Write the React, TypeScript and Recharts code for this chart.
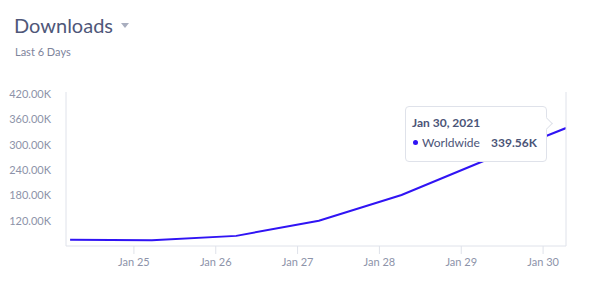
import React from "react";
import { LineChart, Line, XAxis, YAxis, Tooltip } from "recharts";

const dayPositions = [24.22, 25.22, 26.25, 27.26, 28.27, 29.28, 30.28];
const dayLabels = ["Jan 24, 2021", "Jan 25, 2021", "Jan 26, 2021", "Jan 27, 2021", "Jan 28, 2021", "Jan 29, 2021", "Jan 30, 2021"];
const worldwide = [75000, 73500, 84000, 120000, 181000, 262000, 339560];
const xTicks = [25, 26, 27, 28, 29, 30];
const xTickLabels = ["Jan 25", "Jan 26", "Jan 27", "Jan 28", "Jan 29", "Jan 30"];
const yTicks = [120000, 180000, 240000, 300000, 360000, 420000];

const data = dayPositions.map((d, i) => ({ day: d, label: dayLabels[i], value: worldwide[i] }));

const FONT = "Lato, 'Open Sans', sans-serif";
const LINE = "#3014f4";

const fmtK = (v: number) => (v / 1000).toFixed(2) + "K";

const CustomTooltip = (props: any) => {
  const { active, payload } = props;
  if (!active || !payload || !payload.length) return null;
  const p = payload[0].payload;
  return (
    <div
      style={{
        position: "relative",
        width: 140,
        height: 54,
        background: "#fff",
        border: "1px solid #dfe2ea",
        borderRadius: 4,
        fontFamily: FONT,
        fontSize: 12,
        color: "#4b5477",
        boxSizing: "content-box",
      }}
    >
      <div
        style={{
          position: "absolute",
          right: -5,
          top: 12,
          width: 8,
          height: 8,
          background: "#fff",
          borderTop: "1px solid #dfe2ea",
          borderRight: "1px solid #dfe2ea",
          transform: "rotate(45deg)",
        }}
      />
      <div style={{ position: "absolute", left: 6, top: 8, fontWeight: 700, whiteSpace: "nowrap" }}>{p.label}</div>
      <div style={{ position: "absolute", left: 7, top: 28, whiteSpace: "nowrap", display: "flex", alignItems: "center" }}>
        <span style={{ display: "inline-block", width: 5, height: 5, borderRadius: 3, background: LINE, marginRight: 4 }} />
        <span>Worldwide</span>
      </div>
      <div style={{ position: "absolute", right: 9, top: 28, fontWeight: 700, whiteSpace: "nowrap" }}>{fmtK(p.value)}</div>
    </div>
  );
};

export default function App() {
  return (
    <div style={{ position: "absolute", left: 0, top: 0, width: 589, height: 289, background: "#fff", fontFamily: FONT }}>
      <div style={{ position: "absolute", left: 14, top: 11, fontSize: 20, color: "#4f5779", lineHeight: "28px" }}>Downloads</div>
      <div
        style={{
          position: "absolute",
          left: 121,
          top: 23,
          width: 0,
          height: 0,
          borderLeft: "4px solid transparent",
          borderRight: "4px solid transparent",
          borderTop: "5px solid #a9aebf",
        }}
      />
      <div style={{ position: "absolute", left: 15, top: 44, fontSize: 11, color: "#7d849b", lineHeight: "16px" }}>Last 6 Days</div>
      <div style={{ position: "absolute", left: 0, top: 0 }}>
        <LineChart width={589} height={289} data={data} margin={{ top: 92, right: 23, bottom: 13, left: 0 }}>
          <XAxis
            dataKey="day"
            type="number"
            domain={[24.17, 30.28]}
            ticks={xTicks}
            tickFormatter={(v: number) => xTickLabels[xTicks.indexOf(v)] ?? ""}
            stroke="#dfe2ea"
            tickSize={8}
            tickMargin={4}
            height={30}
            tick={{ fill: "#8d93a9", fontSize: 11, fontFamily: FONT }}
            allowDataOverflow
          />
          <YAxis
            type="number"
            domain={[60000, 425000]}
            ticks={yTicks}
            tickFormatter={fmtK}
            width={66}
            axisLine={{ stroke: "#dfe2ea" }}
            tickLine={false}
            tickSize={0}
            tickMargin={15}
            tick={{ fill: "#8d93a9", fontSize: 11, fontFamily: FONT }}
            allowDataOverflow
          />
          <Tooltip
            defaultIndex={6}
            content={CustomTooltip}
            cursor={{ stroke: "#dfe2ea", strokeWidth: 1 }}
            position={{ x: 405, y: 106 }}
            isAnimationActive={false}
            wrapperStyle={{ outline: "none" }}
            allowEscapeViewBox={{ x: true, y: true }}
          />
          <Line
            type="linear"
            dataKey="value"
            stroke={LINE}
            strokeWidth={2}
            dot={false}
            activeDot={false}
            isAnimationActive={false}
          />
        </LineChart>
      </div>
    </div>
  );
}
